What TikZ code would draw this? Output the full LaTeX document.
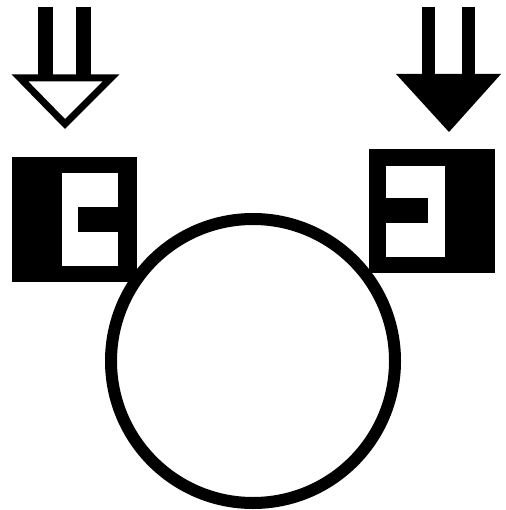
\documentclass[tikz,border=0pt]{standalone}
\usetikzlibrary{positioning}
\tikzset{
  shaft/.style={fill=black},
  hollowhead/.style={draw=black, fill=white, line width=7pt, line join=miter},
  solidhead/.style={fill=black},
  plate/.style={fill=black},
  slot/.style={fill=white},
  rim/.style={circle, draw, line width=12pt, inner sep=0pt, minimum size=284pt},
}
\begin{document}
\begin{tikzpicture}[x=1pt, y=-1pt]
  \useasboundingbox (0,0) rectangle (505,510);

  % Wheel
  \node[rim] (wheel) at (253,361) {};

  % Left arrow (open head)
  \fill[shaft] (38,7) rectangle (53,80);
  \fill[shaft] (76,7) rectangle (91,80);
  \draw[hollowhead] (20,78) -- (111,78) -- (65,124) -- cycle;

  % Right arrow (filled head)
  \fill[shaft] (422,7) rectangle (435,76);
  \fill[shaft] (462,7) rectangle (475,76);
  \fill[solidhead] (396,74) -- (501,74) -- (449,132) -- cycle;

  % Left block
  \fill[plate] (12,157) rectangle (137,282);
  \fill[slot] (62,173) rectangle (118,266);
  \fill[plate] (78,207) rectangle (118,232);

  % Right block
  \fill[plate] (369,149) rectangle (495,273);
  \fill[slot] (386,166) rectangle (445,257);
  \fill[plate] (386,198) rectangle (428,223);
\end{tikzpicture}
\end{document}
